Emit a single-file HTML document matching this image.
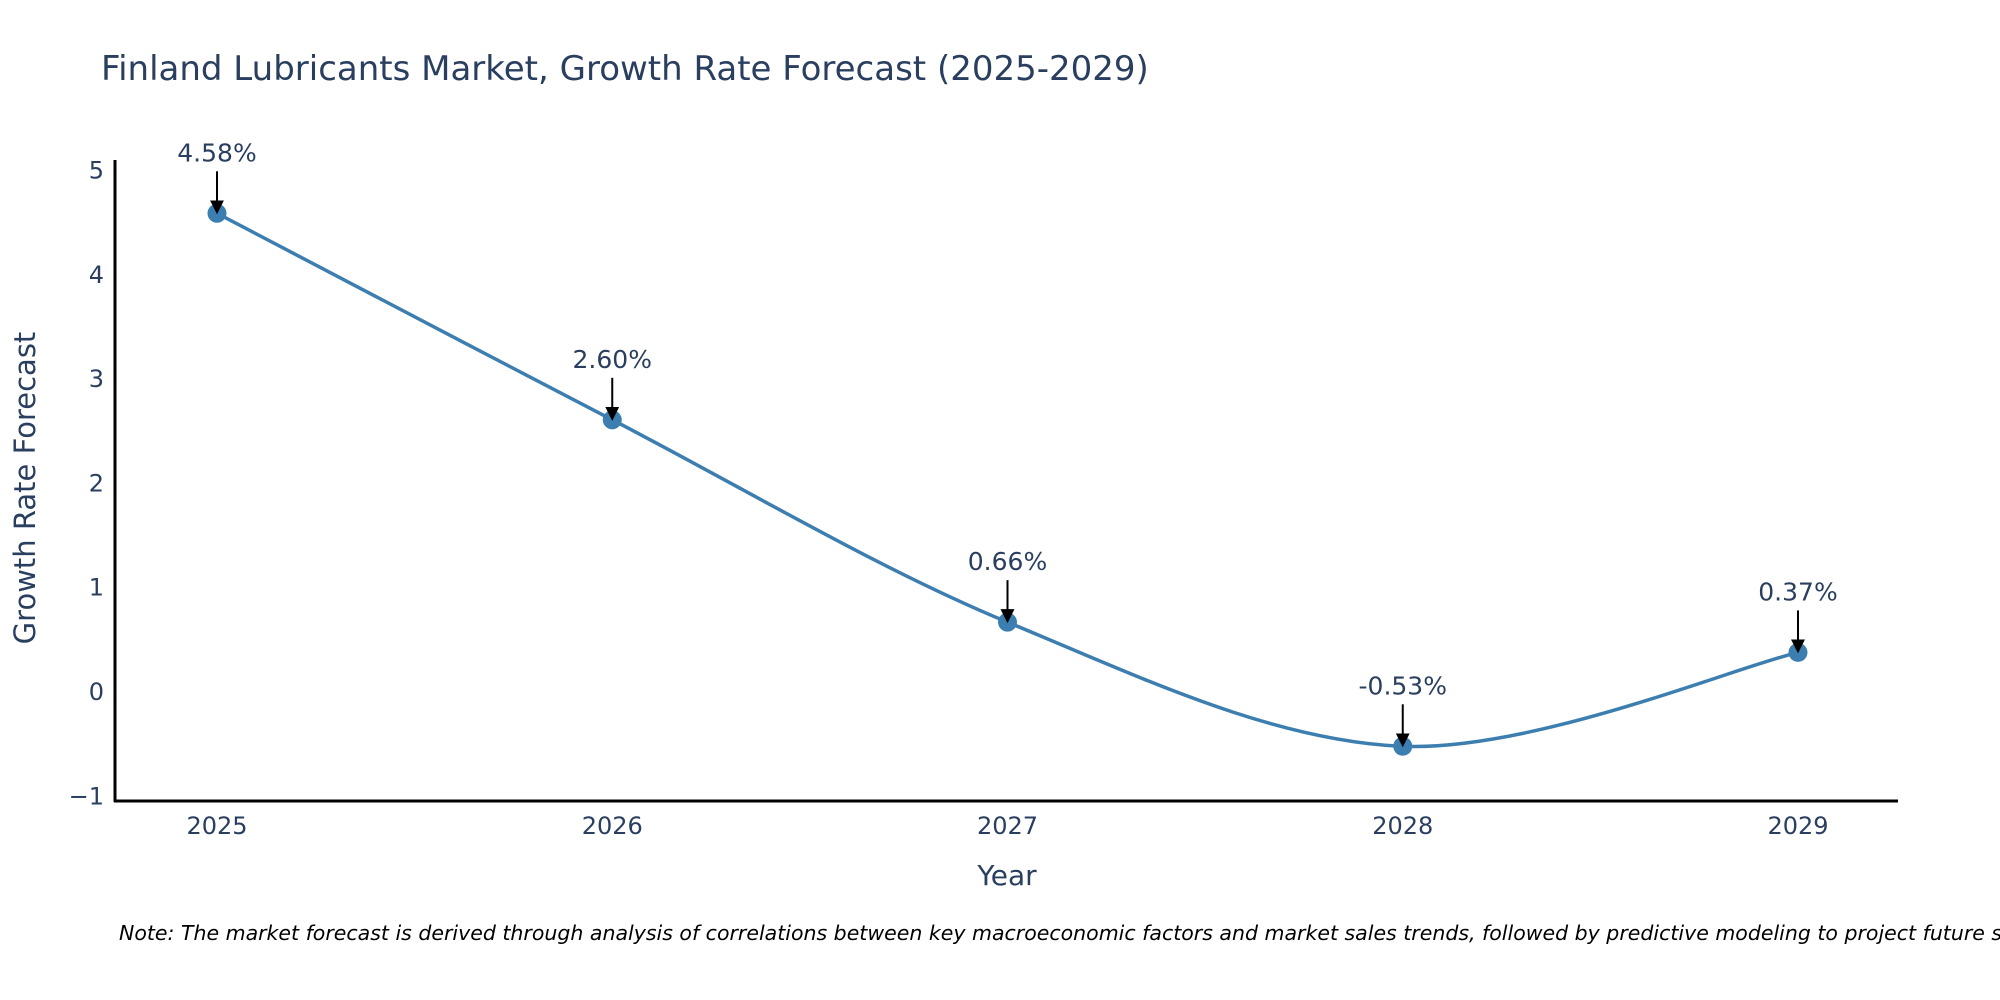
<!DOCTYPE html>
<html><head><meta charset="utf-8"><style>
body{margin:0;background:#fff;overflow:hidden;}
svg{display:block;font-family:"DejaVu Sans","Liberation Sans",sans-serif;}
</style></head><body>
<svg id="chart" width="2000" height="1000">
<defs><marker id="ah" markerWidth="14" markerHeight="14" refX="10" refY="7" orient="auto" markerUnits="userSpaceOnUse" viewBox="0 0 14 14"><path d="M0,0 L14,7 L0,14 z" fill="#000"/></marker></defs>
<text x="101" y="80" font-size="34" fill="#2a3f5f">Finland Lubricants Market, Growth Rate Forecast (2025-2029)</text>
<g id="yticks"></g>
<g id="xticks"></g>
<line x1="115" y1="160" x2="115" y2="802" stroke="#000" stroke-width="3"/>
<line x1="114" y1="801" x2="1898" y2="801" stroke="#000" stroke-width="3"/>
<text transform="translate(35,488) rotate(-90)" text-anchor="middle" font-size="29" fill="#2a3f5f">Growth Rate Forecast</text>
<text x="1007" y="885" text-anchor="middle" font-size="28" fill="#2a3f5f">Year</text>
<g id="series"></g>
<text x="119" y="940" font-size="20.5" font-style="italic" fill="#000">Note: The market forecast is derived through analysis of correlations between key macroeconomic factors and market sales trends, followed by predictive modeling to project future sales.</text>
</svg>
<script>
const years = ["2025","2026","2027","2028","2029"];
const growth = [4.58, 2.60, 0.66, -0.53, 0.37];
const labels = ["4.58%","2.60%","0.66%","-0.53%","0.37%"];
const yTicks = [-1,0,1,2,3,4,5];
const yTickLabels = ["\u22121","0","1","2","3","4","5"];
const NS="http://www.w3.org/2000/svg";
const xS=i=>217+i*395.25;
const yS=v=>691-v*104.3;
function mk(t,a,p){const e=document.createElementNS(NS,t);for(const k in a)e.setAttribute(k,a[k]);(p||document.getElementById('chart')).appendChild(e);return e;}
const yt=document.getElementById('yticks');
yTicks.forEach((v,i)=>{const e=mk('text',{x:104,y:yS(v)+9,'text-anchor':'end','font-size':24,fill:'#2a3f5f'},yt);e.textContent=yTickLabels[i];

});
const xt=document.getElementById('xticks');
years.forEach((y,i)=>{const e=mk('text',{x:xS(i),y:834,'text-anchor':'middle','font-size':24,fill:'#2a3f5f'},xt);e.textContent=y;

});
const g=document.getElementById('series');
const P=growth.map((v,i)=>[xS(i),yS(v)]);
let d=`M${P[0][0]},${P[0][1]}`;const s=0.33;
for(let i=0;i<P.length-1;i++){const p0=P[Math.max(i-1,0)],p1=P[i],p2=P[i+1],p3=P[Math.min(i+2,P.length-1)];
const c1=[p1[0]+(p2[0]-p0[0])*s/2,p1[1]+(p2[1]-p0[1])*s/2],c2=[p2[0]-(p3[0]-p1[0])*s/2,p2[1]-(p3[1]-p1[1])*s/2];
d+=` C${c1[0]},${c1[1]} ${c2[0]},${c2[1]} ${p2[0]},${p2[1]}`;}
const ln=mk('path',{d:d,fill:'none',stroke:'#3d7eb0','stroke-width':3.5},g);


P.forEach((p,i)=>{
const c=mk('circle',{cx:p[0],cy:p[1],r:9.5,fill:'#3d7eb0'},g);


const a=mk('line',{x1:p[0],y1:p[1]-42,x2:p[0],y2:p[1]-3,stroke:'#000','stroke-width':2,'marker-end':'url(#ah)'},g);


const t=mk('text',{x:p[0],y:p[1]-52,'text-anchor':'middle','font-size':25,fill:'#2a3f5f'},g);t.textContent=labels[i];


});
</script>
</body></html>
